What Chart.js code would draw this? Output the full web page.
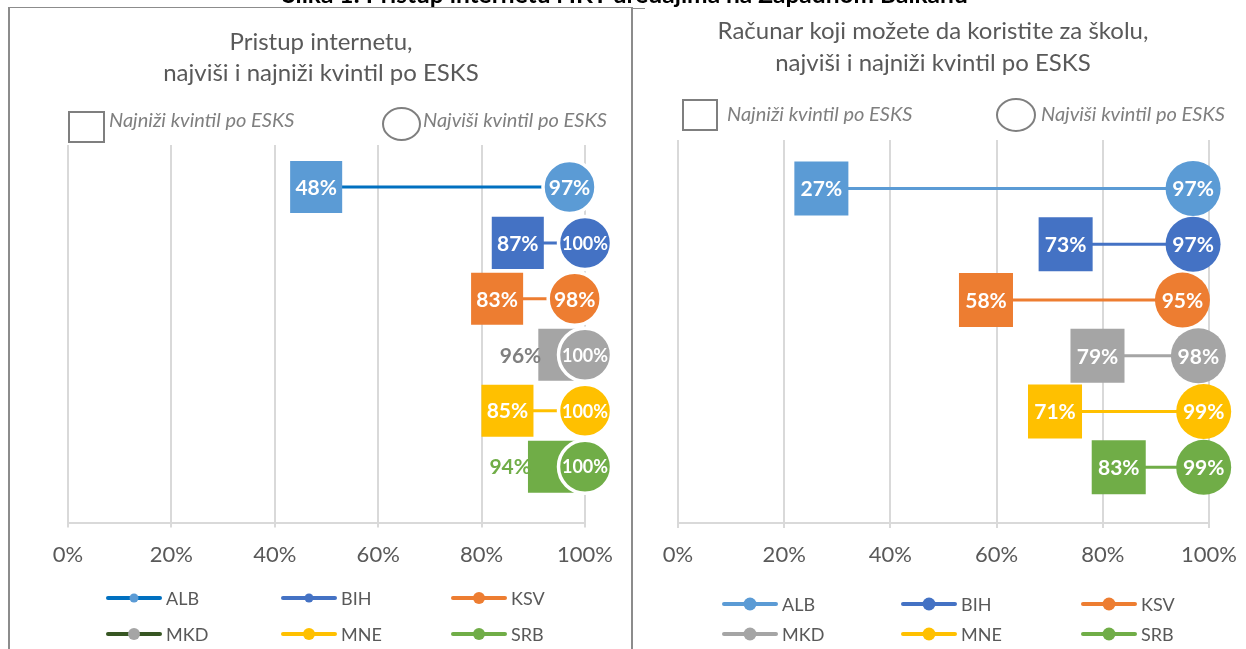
<!DOCTYPE html>
<html><head><meta charset="utf-8">
<script src="https://cdn.jsdelivr.net/npm/chart.js@4.4.1/dist/chart.umd.min.js"></script>
<style>
body{margin:0;background:#fff;}
#wrap{position:relative;width:1246px;height:649px;overflow:hidden;background:#fff;}
#mainTitle{position:absolute;left:0;width:1250px;top:-21px;text-align:center;font:bold 24.5px Lato, sans-serif;line-height:30px;color:#000;white-space:nowrap;}
.vline{position:absolute;background:#8c8c8c;width:2px;}
.hline{position:absolute;background:#8c8c8c;height:1px;}
canvas{position:absolute;}
</style></head>
<body><div id="wrap">
<canvas id="c1" width="622" height="641" style="left:9px;top:8px"></canvas>
<canvas id="c2" width="618" height="641" style="left:634px;top:8px"></canvas>
<div class="hline" style="left:8px;top:7px;width:625px"></div>
<div class="vline" style="left:8px;top:7px;height:642px"></div>
<div class="vline" style="left:631px;top:7px;height:642px"></div>
<div class="hline" style="left:632px;top:8px;width:13px"></div>
<div id="mainTitle">Slika 1: Pristup internetu i IKT uređajima na Zapadnom Balkanu</div>
</div>
<script>
// ---- data ----
const countries = ['ALB','BIH','KSV','MKD','MNE','SRB'];
const internetLow  = [48, 87, 83, 96, 85, 94];
const internetHigh = [97, 100, 98, 100, 100, 100];
const computerLow  = [27, 73, 58, 79, 71, 83];
const computerHigh = [97, 97, 95, 98, 99, 99];
const xTickLabels = ['0%','20%','40%','60%','80%','100%'];
const title1 = ['Pristup internetu,', 'najviši i najniži kvintil po ESKS'];
const title2 = ['Računar koji možete da koristite za školu,', 'najviši i najniži kvintil po ESKS'];
const lowLegendText = 'Najniži kvintil po ESKS';
const highLegendText = 'Najviši kvintil po ESKS';

// ---- styles ----
const fillColors = ['#5B9BD5','#4472C4','#ED7D31','#A5A5A5','#FFC000','#70AD47'];
const lineColorsLeft = ['#0070C0','#4472C4','#ED7D31','#375623','#FFC000','#70AD47'];
const outLabelColors = ['#5B9BD5','#4472C4','#ED7D31','#7F7F7F','#FFC000','#70AD47'];
const FONT = 'Lato, "Open Sans", sans-serif';

const panelPlugin = {
  id: 'panel',
  afterDatasetsDraw(chart, args, o) {
    const ctx = chart.ctx;
    chart.data.datasets.forEach((ds, i) => {
      const meta = chart.getDatasetMeta(i);
      const pl = meta.data[0], ph = meta.data[1];
      const lv = ds.data[0].x, hv = ds.data[1].x;
      ctx.save();
      ctx.textBaseline = 'middle';
      const close = hv - lv < 8;
      ctx.font = 'bold 21px ' + FONT;
      const lt = lv + '%';
      if (close) {
        ctx.textAlign = 'right'; ctx.fillStyle = outLabelColors[i];
        ctx.fillText(lt, pl.x - o.squareHalf + 3, pl.y + 1);
      } else {
        ctx.textAlign = 'center'; ctx.fillStyle = '#fff';
        ctx.fillText(lt, pl.x, pl.y + 1);
      }
      const ht = hv + '%';
      ctx.font = 'bold ' + (ht.length > 3 ? 18 : 21) + 'px ' + FONT;
      ctx.textAlign = 'center'; ctx.fillStyle = '#fff';
      ctx.fillText(ht, ph.x, ph.y + 1);
      ctx.restore();
    });
  },
  afterDraw(chart, args, o) {
    const ctx = chart.ctx;
    ctx.save();
    // title
    ctx.fillStyle = '#595959';
    ctx.font = '24px ' + FONT;
    ctx.textAlign = 'center'; ctx.textBaseline = 'middle';
    o.title.forEach((t, k) => ctx.fillText(t, o.titleX, o.titleY[k]));
    // top marker legend
    ctx.strokeStyle = '#7F7F7F'; ctx.lineWidth = 2;
    const s = o.sqBox;
    ctx.strokeRect(s[0], s[1], s[2], s[3]);
    ctx.beginPath(); ctx.ellipse(o.circBox[0], o.circBox[1], o.circBox[2], o.circBox[3], 0, 0, Math.PI*2); ctx.stroke();
    ctx.fillStyle = '#7F7F7F';
    ctx.font = 'italic 20px ' + FONT; ctx.textAlign = 'left';
    ctx.fillText(lowLegendText, o.lowTextX, o.topLegY);
    ctx.fillText(highLegendText, o.highTextX, o.topLegY);
    // bottom legend
    countries.forEach((c, i) => {
      const col = i % 3, row = Math.floor(i / 3);
      const x0 = o.legX[col], y = o.legY[row];
      ctx.strokeStyle = o.legLine[i]; ctx.lineWidth = 4; ctx.lineCap = 'round';
      ctx.beginPath(); ctx.moveTo(x0, y); ctx.lineTo(x0 + 52, y); ctx.stroke();
      ctx.fillStyle = fillColors[i];
      ctx.beginPath(); ctx.arc(x0 + 26, y, o.legR[i], 0, Math.PI*2); ctx.fill();
      ctx.fillStyle = '#595959'; ctx.font = '18px ' + FONT; ctx.textAlign = 'left';
      ctx.fillText(c, x0 + 58, y + 1);
    });
    ctx.restore();
  }
};

function makeChart(id, low, high, cfg) {
  const n = countries.length;
  const datasets = countries.map((c, i) => ({
    label: c,
    data: [{x: low[i], y: n - i}, {x: high[i], y: n - i}],
    showLine: true,
    borderColor: cfg.lineColors[i],
    borderWidth: 3,
    pointStyle: ['rect', 'circle'],
    pointRadius: [cfg.rectR, cfg.circR],
    pointHoverRadius: [cfg.rectR, cfg.circR],
    pointBackgroundColor: fillColors[i],
    pointBorderColor: ['rgba(0,0,0,0)', '#ffffff'],
    pointBorderWidth: [0, cfg.circBorder],
    clip: false
  }));
  return new Chart(document.getElementById(id), {
    type: 'scatter',
    data: { datasets },
    plugins: [panelPlugin],
    options: {
      responsive: false, animation: false, devicePixelRatio: 1,
      layout: { padding: cfg.padding },
      events: [],
      plugins: {
        legend: { display: false }, title: { display: false }, tooltip: { enabled: false },
        panel: cfg.panel
      },
      scales: {
        x: {
          type: 'linear', min: 0, max: 100,
          ticks: { stepSize: 20, callback: (v, idx) => xTickLabels[idx], color: '#595959',
                   font: { family: FONT, size: 22 }, padding: 14, maxRotation: 0 },
          grid: { color: '#D9D9D9', lineWidth: 2, tickLength: 5 },
          border: { color: '#D9D9D9', width: 2 }
        },
        y: { type: 'linear', min: 0, max: cfg.ymax, display: false }
      }
    }
  });
}

function draw() {
  makeChart('c1', internetLow, internetHigh, {
    lineColors: lineColorsLeft, rectR: 36.8, circR: 26.5, circBorder: 3.5, ymax: 6.75,
    padding: { left: 59, right: 46, top: 137, bottom: 67 },
    panel: {
      squareHalf: 26,
      title: title1, titleX: 312, titleY: [34, 65],
      sqBox: [60, 104, 35, 30], circBox: [392.5, 116, 18.5, 16], lowTextX: 100, highTextX: 414, topLegY: 113,
      legX: [99, 274, 444], legY: [590, 626],
      legLine: lineColorsLeft, legR: [4.5, 4.5, 6, 6, 6, 6]
    }
  });
  makeChart('c2', computerLow, computerHigh, {
    lineColors: fillColors, rectR: 38.2, circR: 27.5, circBorder: 0, ymax: 6.87,
    padding: { left: 44, right: 43, top: 132, bottom: 66.5 },
    panel: {
      squareHalf: 27,
      title: title2, titleX: 299, titleY: [23, 55],
      sqBox: [49, 92, 34, 30], circBox: [382, 107, 19, 16], lowTextX: 93, highTextX: 407, topLegY: 107,
      legX: [90, 269, 449], legY: [596, 626],
      legLine: fillColors, legR: [6.5, 6.5, 6.5, 6.5, 6.5, 6.5]
    }
  });
}
Promise.all([
  document.fonts.load('21px Lato'), document.fonts.load('bold 21px Lato'), document.fonts.load('italic 17px Lato')
]).then(draw, draw);
</script>
</body></html>
